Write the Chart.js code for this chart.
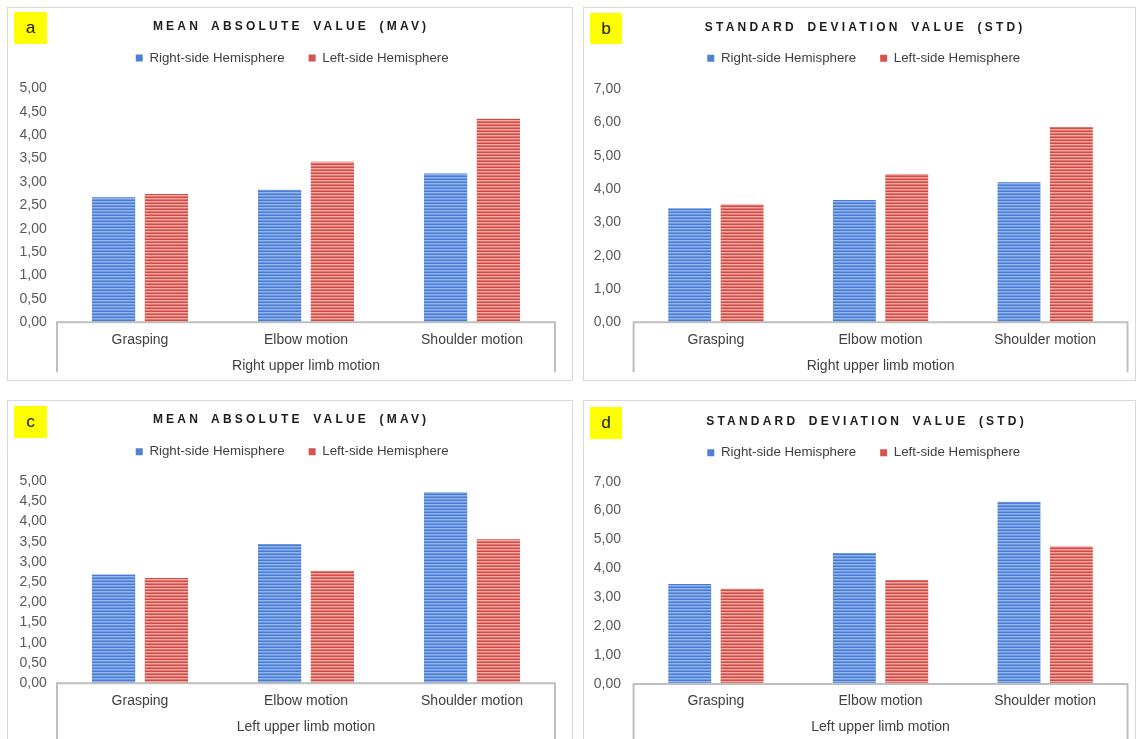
<!DOCTYPE html>
<html>
<head>
<meta charset="utf-8">
<script src="https://cdn.jsdelivr.net/npm/chart.js@4.4.1/dist/chart.umd.min.js"></script>
<style>
  html, body { margin: 0; padding: 0; background: #fff; }
  body { width: 1141px; height: 739px; overflow: hidden; position: relative;
         font-family: "Liberation Sans", Arial, sans-serif; }
  .panel { position: absolute; border: 1px solid #d9d9d9; box-sizing: border-box; background: #fff; }
  .panel canvas { position: absolute; left: 0; top: 0; }
  .tag { position: absolute; background: #ffff00; color: #222; font-size: 17px; text-align: center; }
  .ttl { position: absolute; width: 560px; text-align: center; font-weight: bold; font-size: 12px;
         line-height: 14px; letter-spacing: 3.2px; word-spacing: 4px; color: #1c1c1c; white-space: nowrap; }
</style>
</head>
<body>
<script>
// ---- data ----
const categories = ['Grasping', 'Elbow motion', 'Shoulder motion'];
const seriesNames = ['Right-side Hemisphere', 'Left-side Hemisphere'];

const mavRightLimbRightHemi = [2.67, 2.83, 3.18];
const mavRightLimbLeftHemi  = [2.74, 3.43, 4.35];
const stdRightLimbRightHemi = [3.42, 3.67, 4.20];
const stdRightLimbLeftHemi  = [3.54, 4.45, 5.86];
const mavLeftLimbRightHemi  = [2.69, 3.44, 4.72];
const mavLeftLimbLeftHemi   = [2.60, 2.78, 3.56];
const stdLeftLimbRightHemi  = [3.46, 4.53, 6.31];
const stdLeftLimbLeftHemi   = [3.30, 3.60, 4.77];

const mavTickLabels = ['0,00', '0,50', '1,00', '1,50', '2,00', '2,50', '3,00', '3,50', '4,00', '4,50', '5,00'];
const stdTickLabels = ['0,00', '1,00', '2,00', '3,00', '4,00', '5,00', '6,00', '7,00'];

const titleMav = 'MEAN ABSOLUTE VALUE (MAV)';
const titleStd = 'STANDARD DEVIATION VALUE (STD)';
const axisTitleRightLimb = 'Right upper limb motion';
const axisTitleLeftLimb = 'Left upper limb motion';

// ---- styling ----
const FONT = '"Liberation Sans", Arial, sans-serif';
const LEGEND_FS = 13.3;
const LEGEND_PAD = 24;
const blueRows = ['#4a7bd0', '#8fb4ec', '#6b98e0'];
const redRows  = ['#d24a44', '#f3a9a4', '#e27771'];
const legendSolid = ['#4f81d3', '#d9534e'];

// panel frames and plot geometry (canvas-relative numbers for the plot)
const panels = [
  { tag: 'a', title: titleMav, axisTitle: axisTitleRightLimb, right: mavRightLimbRightHemi, left: mavRightLimbLeftHemi,
    ticks: mavTickLabels, max: 5, step: 0.5,
    frame: [7, 7, 566, 374], tagBox: [14, 12, 33, 32], titleAt: [289.5, 25.7],
    plot: { left: 49, right: 547, top: 80.3, bottom: 314.3 }, legendAt: [284.2, 50], tickPad: 10.3, depth: 50 },
  { tag: 'b', title: titleStd, axisTitle: axisTitleRightLimb, right: stdRightLimbRightHemi, left: stdRightLimbLeftHemi,
    ticks: stdTickLabels, max: 7, step: 1,
    frame: [583, 7, 553, 374], tagBox: [590, 13, 32, 31], titleAt: [863.6, 26.7],
    plot: { left: 49.6, right: 543.5, top: 81, bottom: 314.3 }, legendAt: [282.4, 50.3], tickPad: 12.6, depth: 50 },
  { tag: 'c', title: titleMav, axisTitle: axisTitleLeftLimb, right: mavLeftLimbRightHemi, left: mavLeftLimbLeftHemi,
    ticks: mavTickLabels, max: 5, step: 0.5,
    frame: [7, 400, 566, 350], tagBox: [14, 406, 33, 32], titleAt: [289.5, 419.3],
    plot: { left: 49, right: 547, top: 80, bottom: 282.3 }, legendAt: [284.2, 50.7], tickPad: 10.3, depth: 60 },
  { tag: 'd', title: titleStd, axisTitle: axisTitleLeftLimb, right: stdLeftLimbRightHemi, left: stdLeftLimbLeftHemi,
    ticks: stdTickLabels, max: 7, step: 1,
    frame: [583, 400, 553, 350], tagBox: [590, 407, 32, 32], titleAt: [865, 420.7],
    plot: { left: 49.6, right: 543.5, top: 80.7, bottom: 283 }, legendAt: [283, 51.7], tickPad: 12.6, depth: 60 }
];

function stripes(ctx, rows) {
  const c = document.createElement('canvas');
  c.width = 1; c.height = rows.length;
  const g = c.getContext('2d');
  rows.forEach((col, i) => { g.fillStyle = col; g.fillRect(0, i, 1, 1); });
  return ctx.createPattern(c, 'repeat');
}

// outline of the category axis box: axis line plus the two outer drop lines
const categoryBox = {
  id: 'categoryBox',
  afterDatasetsDraw(chart, args, opts) {
    const { ctx, chartArea: { left, right, bottom } } = chart;
    ctx.save();
    ctx.strokeStyle = '#bfbfbf';
    ctx.lineWidth = 2;
    ctx.beginPath();
    ctx.moveTo(left, bottom + opts.depth);
    ctx.lineTo(left, bottom);
    ctx.lineTo(right, bottom);
    ctx.lineTo(right, bottom + opts.depth);
    ctx.stroke();
    ctx.restore();
  }
};

const X_SCALE_HEIGHT = 16.8 * 2 + 9.1 * 2 + 3;
const TICK_LABEL_W = 28.5;

panels.forEach(p => {
  const [fx, fy, fw, fh] = p.frame;
  const frame = document.createElement('div');
  frame.className = 'panel';
  Object.assign(frame.style, { left: fx + 'px', top: fy + 'px', width: fw + 'px', height: fh + 'px' });
  const innerW = fw - 2, innerH = fh - 2;
  const canvas = document.createElement('canvas');
  canvas.width = innerW; canvas.height = innerH;
  canvas.style.width = innerW + 'px'; canvas.style.height = innerH + 'px';
  frame.appendChild(canvas);
  document.body.appendChild(frame);

  const tag = document.createElement('div');
  tag.className = 'tag';
  const [tx, ty, tw, th] = p.tagBox;
  Object.assign(tag.style, { left: tx + 'px', top: ty + 'px', width: tw + 'px', height: th + 'px', lineHeight: th + 'px' });
  tag.textContent = p.tag;
  document.body.appendChild(tag);

  const ttl = document.createElement('div');
  ttl.className = 'ttl';
  ttl.style.left = (p.titleAt[0] - 280 + 1.6) + 'px';
  ttl.style.top = (p.titleAt[1] - 7) + 'px';
  ttl.textContent = p.title;
  document.body.appendChild(ttl);

  // right reserve is taken by an empty right-hand axis so the legend keeps the full width
  const rightReserve = innerW - p.plot.right;
  const maxPadL = p.plot.left - p.tickPad - TICK_LABEL_W;
  const padL = Math.max(0, Math.min(2 * p.legendAt[0] - innerW, maxPadL));
  const yWidth = p.plot.left - padL;
  const padTop = p.legendAt[1] - LEGEND_PAD - LEGEND_FS / 2;
  const spacer = p.plot.top - (padTop + LEGEND_FS + LEGEND_PAD + 10);
  const padBottom = innerH - p.plot.bottom - X_SCALE_HEIGHT;

  const ctx = canvas.getContext('2d');
  new Chart(canvas, {
    type: 'bar',
    data: {
      labels: categories,
      datasets: [
        { label: seriesNames[0], data: p.right, backgroundColor: stripes(ctx, blueRows), borderWidth: 0,
          categoryPercentage: 0.636, barPercentage: 0.82 },
        { label: seriesNames[1], data: p.left, backgroundColor: stripes(ctx, redRows), borderWidth: 0,
          categoryPercentage: 0.636, barPercentage: 0.82 }
      ]
    },
    options: {
      responsive: false,
      animation: false,
      events: [],
      layout: { padding: { left: padL, right: 0, top: padTop, bottom: padBottom } },
      plugins: {
        legend: {
          position: 'top',
          labels: {
            boxWidth: 7, boxHeight: 7, padding: LEGEND_PAD, color: '#404040',
            font: { family: FONT, size: LEGEND_FS },
            generateLabels(chart) {
              const items = Chart.defaults.plugins.legend.labels.generateLabels(chart);
              items.forEach((it, i) => { it.fillStyle = legendSolid[i]; it.strokeStyle = legendSolid[i]; it.lineWidth = 0; });
              return items;
            }
          }
        },
        subtitle: { display: true, text: '', weight: 500, font: { size: 1, lineHeight: 1 },
                    padding: { top: 0, bottom: Math.max(0, spacer - 1) } },
        title: { display: false },
        tooltip: { enabled: false },
        categoryBox: { depth: p.depth }
      },
      scales: {
        x: {
          grid: { display: false, drawTicks: false },
          border: { display: false },
          ticks: { color: '#404040', font: { family: FONT, size: 14 }, padding: 9.1, maxRotation: 0, autoSkip: false },
          title: { display: true, text: p.axisTitle, color: '#404040', font: { family: FONT, size: 14 },
                   padding: { top: 0, bottom: 3 } }
        },
        y: {
          min: 0, max: p.max,
          grid: { display: false, drawTicks: false },
          border: { display: false },
          ticks: { stepSize: p.step, padding: p.tickPad, color: '#595959', font: { family: FONT, size: 14 },
                   callback: (v, i) => p.ticks[i] },
          afterFit(scale) { scale.width = yWidth; }
        },
        yRight: {
          position: 'right',
          grid: { display: false, drawTicks: false },
          border: { display: false },
          ticks: { display: false },
          afterFit(scale) { scale.width = rightReserve; }
        }
      }
    },
    plugins: [categoryBox]
  });
});
</script>
</body>
</html>
